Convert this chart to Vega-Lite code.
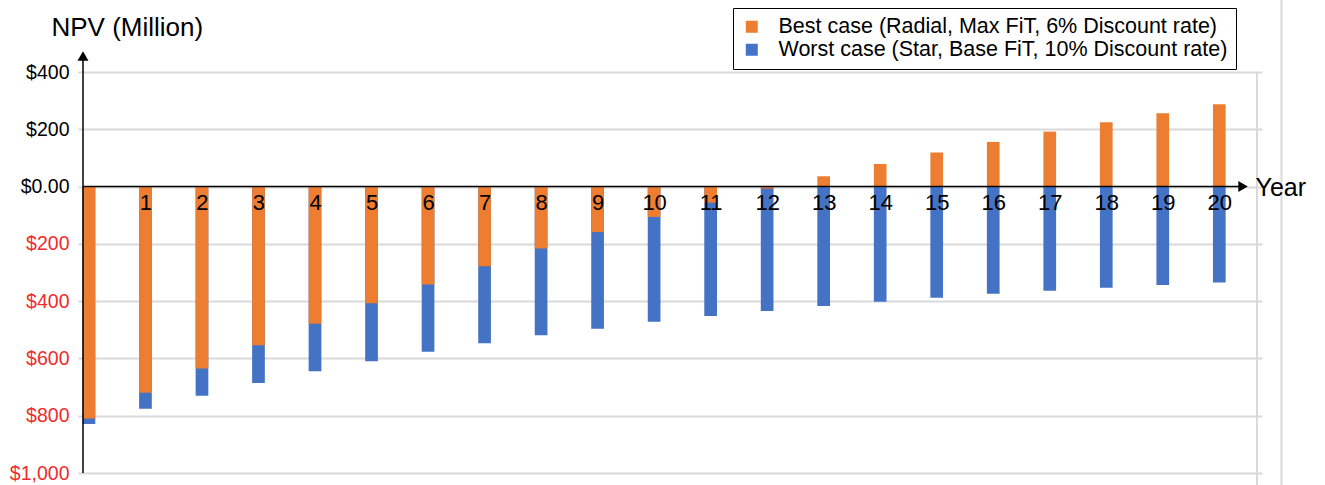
{
  "$schema": "https://vega.github.io/schema/vega-lite/v6.json",
  "width": 1184,
  "height": 401,
  "autosize": "none",
  "padding": {"left": 78, "top": 72, "right": 63, "bottom": 12},
  "background": "white",
  "config": {"font": "Liberation Sans", "view": {"stroke": null}},
  "datasets": {
    "npv": [
      {"year": 0, "case": "Worst case (Star, Base FiT, 10% Discount rate)", "npv": -829},
      {"year": 1, "case": "Worst case (Star, Base FiT, 10% Discount rate)", "npv": -776},
      {"year": 2, "case": "Worst case (Star, Base FiT, 10% Discount rate)", "npv": -730},
      {"year": 3, "case": "Worst case (Star, Base FiT, 10% Discount rate)", "npv": -686},
      {"year": 4, "case": "Worst case (Star, Base FiT, 10% Discount rate)", "npv": -645},
      {"year": 5, "case": "Worst case (Star, Base FiT, 10% Discount rate)", "npv": -610},
      {"year": 6, "case": "Worst case (Star, Base FiT, 10% Discount rate)", "npv": -577},
      {"year": 7, "case": "Worst case (Star, Base FiT, 10% Discount rate)", "npv": -547},
      {"year": 8, "case": "Worst case (Star, Base FiT, 10% Discount rate)", "npv": -519},
      {"year": 9, "case": "Worst case (Star, Base FiT, 10% Discount rate)", "npv": -496},
      {"year": 10, "case": "Worst case (Star, Base FiT, 10% Discount rate)", "npv": -472},
      {"year": 11, "case": "Worst case (Star, Base FiT, 10% Discount rate)", "npv": -452},
      {"year": 12, "case": "Worst case (Star, Base FiT, 10% Discount rate)", "npv": -434},
      {"year": 13, "case": "Worst case (Star, Base FiT, 10% Discount rate)", "npv": -417},
      {"year": 14, "case": "Worst case (Star, Base FiT, 10% Discount rate)", "npv": -402},
      {"year": 15, "case": "Worst case (Star, Base FiT, 10% Discount rate)", "npv": -388},
      {"year": 16, "case": "Worst case (Star, Base FiT, 10% Discount rate)", "npv": -374},
      {"year": 17, "case": "Worst case (Star, Base FiT, 10% Discount rate)", "npv": -364},
      {"year": 18, "case": "Worst case (Star, Base FiT, 10% Discount rate)", "npv": -353},
      {"year": 19, "case": "Worst case (Star, Base FiT, 10% Discount rate)", "npv": -344},
      {"year": 20, "case": "Worst case (Star, Base FiT, 10% Discount rate)", "npv": -335},
      {"year": 0, "case": "Best case (Radial, Max FiT, 6% Discount rate)", "npv": -810},
      {"year": 1, "case": "Best case (Radial, Max FiT, 6% Discount rate)", "npv": -720},
      {"year": 2, "case": "Best case (Radial, Max FiT, 6% Discount rate)", "npv": -635},
      {"year": 3, "case": "Best case (Radial, Max FiT, 6% Discount rate)", "npv": -554},
      {"year": 4, "case": "Best case (Radial, Max FiT, 6% Discount rate)", "npv": -479},
      {"year": 5, "case": "Best case (Radial, Max FiT, 6% Discount rate)", "npv": -407},
      {"year": 6, "case": "Best case (Radial, Max FiT, 6% Discount rate)", "npv": -342},
      {"year": 7, "case": "Best case (Radial, Max FiT, 6% Discount rate)", "npv": -278},
      {"year": 8, "case": "Best case (Radial, Max FiT, 6% Discount rate)", "npv": -216},
      {"year": 9, "case": "Best case (Radial, Max FiT, 6% Discount rate)", "npv": -159},
      {"year": 10, "case": "Best case (Radial, Max FiT, 6% Discount rate)", "npv": -106},
      {"year": 11, "case": "Best case (Radial, Max FiT, 6% Discount rate)", "npv": -56},
      {"year": 12, "case": "Best case (Radial, Max FiT, 6% Discount rate)", "npv": -7},
      {"year": 13, "case": "Best case (Radial, Max FiT, 6% Discount rate)", "npv": 36},
      {"year": 14, "case": "Best case (Radial, Max FiT, 6% Discount rate)", "npv": 79},
      {"year": 15, "case": "Best case (Radial, Max FiT, 6% Discount rate)", "npv": 119},
      {"year": 16, "case": "Best case (Radial, Max FiT, 6% Discount rate)", "npv": 156},
      {"year": 17, "case": "Best case (Radial, Max FiT, 6% Discount rate)", "npv": 192},
      {"year": 18, "case": "Best case (Radial, Max FiT, 6% Discount rate)", "npv": 225},
      {"year": 19, "case": "Best case (Radial, Max FiT, 6% Discount rate)", "npv": 256},
      {"year": 20, "case": "Best case (Radial, Max FiT, 6% Discount rate)", "npv": 287}
    ]
  },
  "layer": [
    {
      "data": {"name": "npv"},
      "mark": {"type": "bar", "orient": "vertical", "size": 12.7},
      "encoding": {
        "x": {
          "field": "year", "type": "quantitative",
          "scale": {"domain": [-0.105, 20.667], "nice": false, "zero": false},
          "axis": {
            "values": [1,2,3,4,5,6,7,8,9,10,11,12,13,14,15,16,17,18,19,20],
            "format": "d", "zindex": 2,
            "offset": -286, "domain": false, "ticks": false, "grid": false,
            "labelFontSize": 22, "labelColor": "black", "labelPadding": 5, "labelFlush": false,
            "title": "Year", "titleFontSize": 25, "titleFontWeight": "normal", "titleColor": "black",
            "titleX": 1177, "titleY": 0, "titleAlign": "left", "titleBaseline": "middle", "titleAnchor": null
          }
        },
        "y": {
          "field": "npv", "type": "quantitative", "stack": null,
          "scale": {"domain": [-1000, 400], "nice": false},
          "axis": {
            "values": [-1000, -800, -600, -400, -200, 0, 200, 400],
            "labelExpr": "datum.value == 0 ? '$0.00' : '$' + format(abs(datum.value), ',')",
            "labelColor": {"condition": {"test": "datum.value < 0", "value": "#ee2c2c"}, "value": "black"},
            "labelFontSize": 19.5, "labelPadding": 9,
            "domain": false, "ticks": false,
            "grid": true, "gridColor": "#d9d9d9", "gridWidth": 2,
            "title": "NPV (Million)", "titleAngle": 0, "titleAlign": "left", "titleBaseline": "middle",
            "titleX": -27, "titleY": -45, "titleFontSize": 26, "titleFontWeight": "normal", "titleColor": "black"
          }
        },
        "color": {
          "field": "case", "type": "nominal",
          "scale": {
            "domain": ["Best case (Radial, Max FiT, 6% Discount rate)", "Worst case (Star, Base FiT, 10% Discount rate)"],
            "range": ["#ED7D31", "#4472C4"]
          },
          "legend": {
            "orient": "none", "legendX": 655, "legendY": -64, "title": null,
            "strokeColor": "black", "fillColor": "white", "padding": 8,
            "labelFontSize": 21.5, "labelColor": "black", "labelLimit": 700, "labelOffset": 16,
            "symbolType": "square", "symbolSize": 144, "symbolStrokeWidth": 0, "rowPadding": 0
          }
        }
      }
    },
    {
      "data": {"values": [{}]},
      "mark": {"type": "rule", "color": "#d9d9d9", "strokeWidth": 2},
      "encoding": {"x": {"datum": 20.667, "type": "quantitative"}, "y": {"datum": -1100, "type": "quantitative"}, "y2": {"datum": 400}}
    },
    {
      "data": {"values": [{}]},
      "mark": {"type": "rule", "color": "#d9d9d9", "strokeWidth": 2},
      "encoding": {"x": {"datum": 21.1, "type": "quantitative"}, "y": {"datum": -1100, "type": "quantitative"}, "y2": {"datum": 700}}
    },
    {
      "data": {"values": [{}]},
      "mark": {"type": "rule", "color": "black", "strokeWidth": 1.5},
      "encoding": {"x": {"datum": -0.105, "type": "quantitative"}, "y": {"datum": -1000, "type": "quantitative"}, "y2": {"datum": 450}}
    },
    {
      "data": {"values": [{}]},
      "mark": {"type": "point", "shape": "triangle-up", "filled": true, "color": "black", "size": 120, "opacity": 1},
      "encoding": {"x": {"datum": -0.105, "type": "quantitative"}, "y": {"datum": 456, "type": "quantitative"}}
    },
    {
      "data": {"values": [{}]},
      "mark": {"type": "rule", "color": "black", "strokeWidth": 1.5},
      "encoding": {"x": {"datum": -0.105, "type": "quantitative"}, "x2": {"datum": 20.35}, "y": {"datum": 0, "type": "quantitative"}}
    },
    {
      "data": {"values": [{}]},
      "mark": {"type": "point", "shape": "triangle-right", "filled": true, "color": "black", "size": 120, "opacity": 1},
      "encoding": {"x": {"datum": 20.42, "type": "quantitative"}, "y": {"datum": 0, "type": "quantitative"}}
    }
  ]
}
